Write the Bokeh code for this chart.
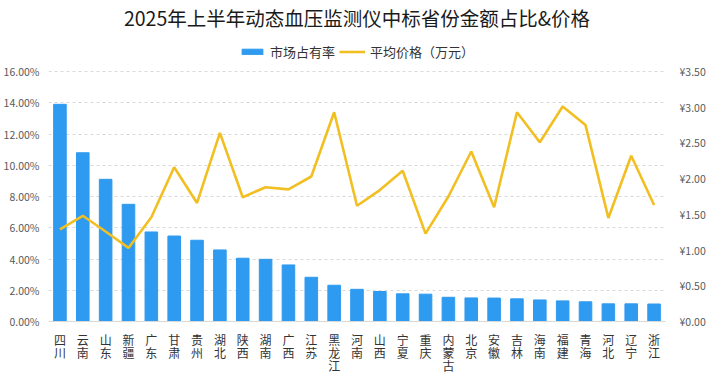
from bokeh.plotting import figure
from bokeh.models import (Range1d, LinearAxis, FixedTicker, PrintfTickFormatter,
                          Legend, LegendItem, ColumnDataSource)
from bokeh.embed import file_html
from bokeh.resources import INLINE

title_text = "2025年上半年动态血压监测仪中标省份金额占比&价格"
provinces = ["四川", "云南", "山东", "新疆", "广东", "甘肃", "贵州", "湖北", "陕西",
             "湖南", "广西", "江苏", "黑龙江", "河南", "山西", "宁夏", "重庆", "内蒙古",
             "北京", "安徽", "吉林", "海南", "福建", "青海", "河北", "辽宁", "浙江"]
share = [13.9, 10.8, 9.1, 7.5, 5.73, 5.47, 5.2, 4.58, 4.05, 3.98, 3.62, 2.83, 2.32, 2.06,
         1.92, 1.77, 1.75, 1.55, 1.51, 1.50, 1.45, 1.38, 1.32, 1.26, 1.13, 1.13, 1.12]
price = [1.29, 1.48, 1.26, 1.03, 1.46, 2.16, 1.66, 2.64, 1.74, 1.88, 1.85, 2.03, 2.93, 1.62,
         1.84, 2.11, 1.23, 1.75, 2.38, 1.60, 2.93, 2.51, 3.01, 2.75, 1.45, 2.32, 1.63]
share_ticks = [0, 2, 4, 6, 8, 10, 12, 14, 16]
price_ticks = [0, 0.5, 1.0, 1.5, 2.0, 2.5, 3.0, 3.5]
legend_labels = ["市场占有率", "平均价格（万元）"]

FONT = "Noto Sans CJK SC"
BLUE = "#2E9AF0"
GOLD = "#F2BF22"
TICK_COLOR = "#595959"

FRAME_W = 617
FRAME_H = 290
GRID_H = 250.0            # pixels from 0 to the top gridline
HEAD = FRAME_H / GRID_H   # head-room above the top gridline (room for the legend)

labels = ["\n".join(n) for n in provinces]
src = ColumnDataSource(dict(x=labels, share=share, price=price))

p = figure(x_range=labels, y_range=Range1d(0, share_ticks[-1] * HEAD),
           frame_width=FRAME_W, frame_height=FRAME_H,
           output_backend="svg", toolbar_location=None,
           min_border_left=37, min_border_right=40, min_border_top=22, min_border_bottom=0)
p.extra_y_ranges = {"price": Range1d(0, price_ticks[-1] * HEAD)}
p.x_range.range_padding = 0

p.title.text = title_text
p.title.align = "center"
p.title.text_font = FONT
p.title.text_font_size = "19.5px"
p.title.text_font_style = "normal"
p.title.text_color = "#1a1a1a"
p.title.standoff = 0

bars = p.vbar(x="x", top="share", width=0.55, source=src, color=BLUE)
line = p.line(x="x", y="price", source=src, y_range_name="price",
              line_color=GOLD, line_width=2.6)

legend = Legend(items=[LegendItem(label=legend_labels[0], renderers=[bars]),
                       LegendItem(label=legend_labels[1], renderers=[line])],
                orientation="horizontal", location=(191, 260),
                label_text_font=FONT, label_text_font_size="13px",
                label_text_color="#333333", glyph_width=26, glyph_height=7,
                spacing=4, label_standoff=5, padding=2, margin=0,
                border_line_color=None, background_fill_alpha=0)
p.add_layout(legend)

p.outline_line_color = None
p.xgrid.grid_line_color = None
p.ygrid.grid_line_color = "#d9d9d9"
p.ygrid.grid_line_dash = "3 3"
p.ygrid.ticker = FixedTicker(ticks=share_ticks)

ax = p.yaxis[0]
ax.ticker = FixedTicker(ticks=share_ticks)
ax.formatter = PrintfTickFormatter(format="%.2f%%")
ax.axis_line_color = None
ax.major_tick_line_color = None
ax.minor_tick_line_color = None
ax.major_label_text_font = FONT
ax.major_label_text_font_size = "10.5px"
ax.major_label_text_color = TICK_COLOR
ax.major_label_standoff = 3

rax = LinearAxis(y_range_name="price", ticker=FixedTicker(ticks=price_ticks),
                 formatter=PrintfTickFormatter(format="¥%.2f"))
rax.axis_line_color = None
rax.major_tick_line_color = None
rax.minor_tick_line_color = None
rax.major_label_text_font = FONT
rax.major_label_text_font_size = "10.5px"
rax.major_label_text_color = TICK_COLOR
rax.major_label_standoff = 8
p.add_layout(rax, "right")

xa = p.xaxis[0]
xa.axis_line_color = "#d9d9d9"
xa.major_tick_line_color = None
xa.minor_tick_line_color = None
xa.major_label_text_font = FONT
xa.major_label_text_font_size = "12px"
xa.major_label_text_color = "#333333"
xa.major_label_text_line_height = 0.78
xa.major_label_standoff = 3

open("out.html", "w").write(file_html(p, INLINE))
